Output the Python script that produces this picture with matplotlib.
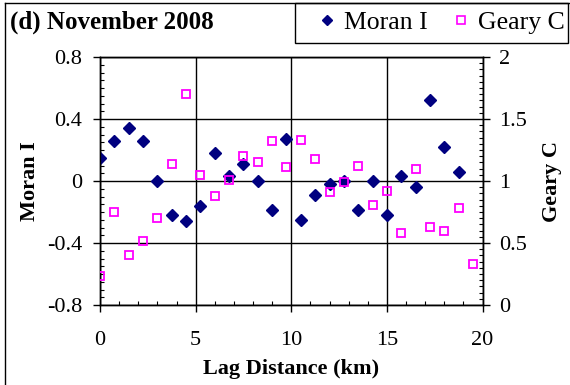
import matplotlib

matplotlib.use("Agg")
import matplotlib.pyplot as plt
from matplotlib.lines import Line2D
from matplotlib.patches import Rectangle
from matplotlib.ticker import MultipleLocator

plt.rcParams["font.family"] = ["Liberation Serif", "DejaVu Serif"]
plt.rcParams["axes.unicode_minus"] = False

NAVY = "#000080"
PINK = "#ff00ff"

# lag distance (km)
lag_moran = [0, 0.75, 1.5, 2.25, 3.0, 3.75, 4.5, 5.25, 6.0, 6.75, 7.5, 8.25, 9.0,
             9.75, 10.5, 11.25, 12.0, 12.75, 13.5, 14.25, 15.0, 15.75, 16.5, 17.25,
             18.0, 18.75]
moran_i = [0.15, 0.26, 0.34, 0.26, 0.0, -0.22, -0.26, -0.16, 0.18, 0.03, 0.11, 0.0,
           -0.19, 0.27, -0.25, -0.09, -0.02, 0.0, -0.19, 0.0, -0.22, 0.03, -0.04,
           0.52, 0.22, 0.06]

lag_geary = lag_moran + [19.5]
geary_c = [0.23, 0.75, 0.40, 0.52, 0.70, 1.14, 1.70, 1.05, 0.88, 1.01, 1.20, 1.15,
           1.32, 1.11, 1.33, 1.18, 0.91, 0.99, 1.12, 0.81, 0.92, 0.58, 1.10, 0.63,
           0.60, 0.78, 0.33]

W, H = 570, 385
fig = plt.figure(figsize=(W / 100, H / 100), dpi=100)
ax = fig.add_axes([100 / W, 1 - 305 / H, 382.5 / W, 248 / H])
ax2 = ax.twinx()

ax.plot(lag_moran, moran_i, linestyle="none", marker="D", ms=5.8,
        color=NAVY, mec=NAVY, zorder=3, label="Moran I")
ax2.plot(lag_geary, geary_c, linestyle="none", marker="s", ms=6.0, mew=1.3,
         mfc="none", mec=PINK, zorder=3, label="Geary C")

ax.set_xlim(0, 20)
ax.set_ylim(-0.8, 0.8)
ax2.set_ylim(0, 2)
ax.xaxis.set_major_locator(MultipleLocator(5))
ax.xaxis.set_minor_locator(MultipleLocator(1))
ax.yaxis.set_minor_locator(MultipleLocator(0.05))
ax2.yaxis.set_minor_locator(MultipleLocator(0.05))
ax.set_yticks([-0.8, -0.4, 0, 0.4, 0.8])
ax.set_yticklabels(["-0.8", "-0.4", "0", "0.4", "0.8"])
ax2.set_yticks([0, 0.5, 1, 1.5, 2])
ax2.set_yticklabels(["0", "0.5", "1", "1.5", "2"])

ax.grid(True, which="major", color="black", linewidth=1.0)
ax.set_axisbelow(True)

for a in (ax, ax2):
    for s in a.spines.values():
        s.set_linewidth(1.0)
    a.tick_params(which="major", direction="out", length=5, width=1.0,
                  labelsize=16, colors="black")
    a.tick_params(which="minor", direction="in", length=3, width=0.8)
ax.tick_params(axis="x", which="major", pad=14)
ax.tick_params(axis="y", which="major", pad=8)
ax2.tick_params(axis="y", which="major", pad=7)
ax.tick_params(axis="x", which="minor", top=False)

ax.set_xlabel("Lag Distance (km)", fontsize=16, fontweight="bold", labelpad=6)
ax.set_ylabel("Moran I", fontsize=16, fontweight="bold", labelpad=5)
ax2.set_ylabel("Geary C", fontsize=16, fontweight="bold", labelpad=11)

# outer frame (left + top) and title
fig.add_artist(Line2D([5 / W, 5 / W], [0, 1 - 3 / H], color="black", lw=1.0))
fig.add_artist(Line2D([5 / W, 1], [1 - 3 / H, 1 - 3 / H], color="black", lw=1.0))
fig.text(10 / W, 1 - 22 / H, "(d) November 2008", fontsize=18, fontweight="bold",
         ha="left", va="center")

# legend box
fig.add_artist(Rectangle((295 / W, 1 - 43 / H), (568 - 295) / W, 40 / H,
                         transform=fig.transFigure, fill=False, ec="black", lw=1.0))
handles = [
    Line2D([], [], linestyle="none", marker="D", ms=5, color=NAVY),
    Line2D([], [], linestyle="none", marker="s", ms=5.5, mfc="none", mec=PINK, mew=1.2),
]
fig.legend(handles, ["Moran I", "Geary C"], loc="center",
           bbox_to_anchor=(441 / W, 1 - 23 / H), ncol=2,
           frameon=False, fontsize=18.5, handlelength=0.8, handletextpad=0.25,
           columnspacing=0.9, borderpad=0)

fig.savefig("out.png", dpi=100, facecolor="white")
